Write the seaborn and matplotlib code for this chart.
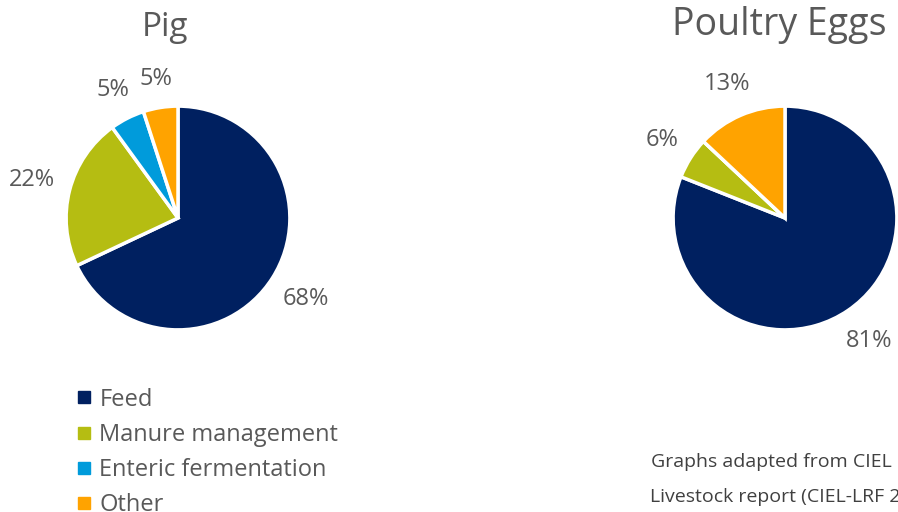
import matplotlib
matplotlib.use("Agg")
import matplotlib.pyplot as plt
import numpy as np
import seaborn as sns
from matplotlib.lines import Line2D

sns.set_theme(style="white")
plt.rcParams['font.family'] = ['Open Sans', 'DejaVu Sans']

# data
categories = ['Feed', 'Manure management', 'Enteric fermentation', 'Other']
pig_values = [68, 22, 5, 5]
poultry_values = [81, 6, 0, 13]
titles = ['Pig', 'Poultry Eggs']
note_lines = ['Graphs adapted from CIEL Net Zero Carbon & UK',
              'Livestock report (CIEL-LRF 2020)']

colors = ['#002060', '#b5bd12', '#009bdb', '#ffa300']
text_color = '#595959'

W, H = 898, 512
fig = plt.figure(figsize=(W / 100, H / 100), dpi=100)


def px_axes(left, top, w, h):
    return fig.add_axes([left / W, (H - top - h) / H, w / W, h / H])


def pct_label(p):
    return f'{p:.0f}%' if p > 0.5 else ''


def place_outside(ax, wedges, texts, gap=14):
    # put each label just outside the rim, like "outside end" labels
    fig.canvas.draw()
    r_px = ax.transData.transform((1, 0))[0] - ax.transData.transform((0, 0))[0]
    for w, t in zip(wedges, texts):
        if not t.get_text():
            continue
        ang = np.deg2rad((w.theta1 + w.theta2) / 2)
        bb = t.get_window_extent()
        ext = abs(np.cos(ang)) * bb.width / 2 + abs(np.sin(ang)) * bb.height / 2
        d = (r_px + gap + ext) / r_px
        t.set_position((d * np.cos(ang), d * np.sin(ang)))


ax1 = px_axes(65, 105, 226, 226)
ax2 = px_axes(672, 105, 226, 226)

for ax, vals in zip([ax1, ax2], [pig_values, poultry_values]):
    wedges, _, autotexts = ax.pie(
        vals, colors=colors, startangle=90, counterclock=False,
        autopct=pct_label, pctdistance=1.3, radius=1,
        wedgeprops=dict(edgecolor='white', linewidth=2.5),
        textprops=dict(color=text_color, fontsize=17))
    ax.set_xlim(-1.01, 1.01)
    ax.set_ylim(-1.01, 1.01)
    ax.set_aspect('equal')
    ax.axis('off')
    place_outside(ax, wedges, autotexts)

fig.text(165 / W, 1 - 36 / H, titles[0], ha='center', va='baseline',
         fontsize=24, color=text_color)
fig.text(779 / W, 1 - 35 / H, titles[1], ha='center', va='baseline',
         fontsize=27, color=text_color)

handles = [Line2D([0], [0], marker='s', linestyle='', markersize=8,
                  markerfacecolor=c, markeredgecolor=c) for c in colors]
fig.legend(handles, categories, loc='upper left',
           bbox_to_anchor=(72 / W, 1 - 383 / H), frameon=False,
           fontsize=17, labelcolor=text_color, handlelength=0.62,
           handletextpad=0.34, labelspacing=0.47, borderpad=0.2,
           borderaxespad=0)

fig.text(651 / W, 1 - 462 / H, note_lines[0], ha='left', va='center',
         fontsize=14, color='#404040')
fig.text(650 / W, 1 - 497 / H, note_lines[1], ha='left', va='center',
         fontsize=14, color='#404040')

fig.savefig('out.png', dpi=100)
